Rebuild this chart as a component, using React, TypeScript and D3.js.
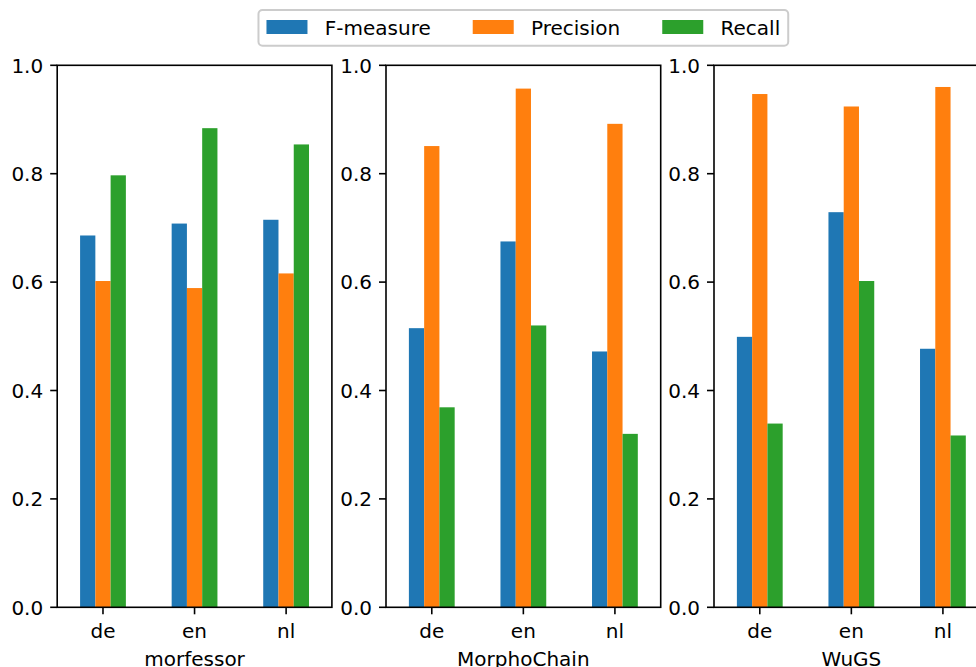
import React, { useMemo } from "react";
import * as d3 from "d3";

// Languages on each x axis, one subplot per segmentation model
const languages = ["de", "en", "nl"];
const models = ["morfessor", "MorphoChain", "WuGS"];
const seriesNames = ["F-measure", "Precision", "Recall"];
const seriesColors = ["#1f77b4", "#ff7f0e", "#2ca02c"];

// Scores per model, in language order (de, en, nl)
const fMeasure = [
  [0.686, 0.708, 0.715],
  [0.515, 0.675, 0.472],
  [0.499, 0.729, 0.477],
];
const precision = [
  [0.602, 0.589, 0.616],
  [0.851, 0.957, 0.892],
  [0.947, 0.924, 0.960],
];
const recall = [
  [0.797, 0.884, 0.854],
  [0.369, 0.520, 0.320],
  [0.339, 0.602, 0.317],
];
const yTicks = [0, 0.2, 0.4, 0.6, 0.8, 1.0];

const W = 976;
const H = 667;
const FONT = "DejaVu Sans, sans-serif";
const FS = 20;
const panelLefts = [57.2, 386, 714];
const panelW = 274.7;
const top = 65.3;
const bottom = 607.3;
const tickLen = 7;
const tickPad = 7;
const lw = 1.6;

function textWidth(s: string): number {
  const c = document.createElement("canvas").getContext("2d");
  if (!c) return s.length * FS * 0.6;
  c.font = `${FS}px DejaVu Sans`;
  return c.measureText(s).width;
}

export default function App() {
  const series = [fMeasure, precision, recall];
  const y = d3.scaleLinear().domain([0, 1]).range([bottom, top]);
  const fmt = d3.format(".1f");

  // Legend layout: colour handle, label, then a column gap before the next entry
  const legend = useMemo(() => {
    const handleW = 41;
    const handleH = 14;
    const textPad = 17.3;
    const colGap = 42;
    const pad = 8;
    const widths = seriesNames.map(textWidth);
    const items: { x: number; w: number }[] = [];
    let x = pad;
    widths.forEach((w, i) => {
      items.push({ x, w });
      x += handleW + textPad + w + (i < widths.length - 1 ? colGap : 0);
    });
    const boxW = x + pad;
    const center = panelLefts[1] + panelW / 2;
    return { items, boxW, left: center - boxW / 2, handleW, handleH, textPad };
  }, []);

  return (
    <svg
      width={W}
      height={H}
      style={{ position: "absolute", left: 0, top: 0, background: "#fff" }}
      fontFamily={FONT}
      fontSize={FS}
    >
      {models.map((model, m) => {
        const x0 = panelLefts[m];
        const band = d3
          .scaleLinear()
          .domain([-0.5, languages.length - 0.5])
          .range([x0, x0 + panelW]);
        const barW = 0.5 / seriesNames.length;
        return (
          <g key={model}>
            {languages.map((lang, i) =>
              series.map((s, k) => {
                const cx = i + (k - (seriesNames.length - 1) / 2) * barW;
                const xa = band(cx - barW / 2);
                const xb = band(cx + barW / 2);
                const v = s[m][i];
                return (
                  <rect
                    key={`${lang}-${k}`}
                    x={xa}
                    y={y(v)}
                    width={xb - xa}
                    height={y(0) - y(v)}
                    fill={seriesColors[k]}
                  />
                );
              })
            )}
            {/* spines */}
            <rect
              x={x0}
              y={top}
              width={panelW}
              height={bottom - top}
              fill="none"
              stroke="#000"
              strokeWidth={lw}
            />
            {/* y axis */}
            {yTicks.map((t) => (
              <g key={t}>
                <line
                  x1={x0 - tickLen}
                  x2={x0}
                  y1={y(t)}
                  y2={y(t)}
                  stroke="#000"
                  strokeWidth={lw}
                />
                <text
                  x={x0 - tickLen - tickPad}
                  y={y(t)}
                  dy={7.3}
                  textAnchor="end"
                  fill="#000"
                >
                  {fmt(t)}
                </text>
              </g>
            ))}
            {/* x axis */}
            {languages.map((lang, i) => (
              <g key={lang}>
                <line
                  x1={band(i)}
                  x2={band(i)}
                  y1={bottom}
                  y2={bottom + tickLen}
                  stroke="#000"
                  strokeWidth={lw}
                />
                <text x={band(i)} y={637.7} textAnchor="middle" fill="#000">
                  {lang}
                </text>
              </g>
            ))}
            <text x={x0 + panelW / 2} y={666.3} textAnchor="middle" fill="#000">
              {model}
            </text>
          </g>
        );
      })}
      {/* legend */}
      <g transform={`translate(${legend.left},10)`}>
        <rect
          x={0}
          y={0}
          width={legend.boxW}
          height={35.7}
          rx={4}
          ry={4}
          fill="#fff"
          fillOpacity={0.8}
          stroke="#cccccc"
          strokeWidth={2}
        />
        {seriesNames.map((name, k) => (
          <g key={name}>
            <rect
              x={legend.items[k].x}
              y={10}
              width={legend.handleW}
              height={legend.handleH}
              fill={seriesColors[k]}
            />
            <text
              x={legend.items[k].x + legend.handleW + legend.textPad}
              y={24.5}
              fill="#000"
            >
              {name}
            </text>
          </g>
        ))}
      </g>
    </svg>
  );
}
